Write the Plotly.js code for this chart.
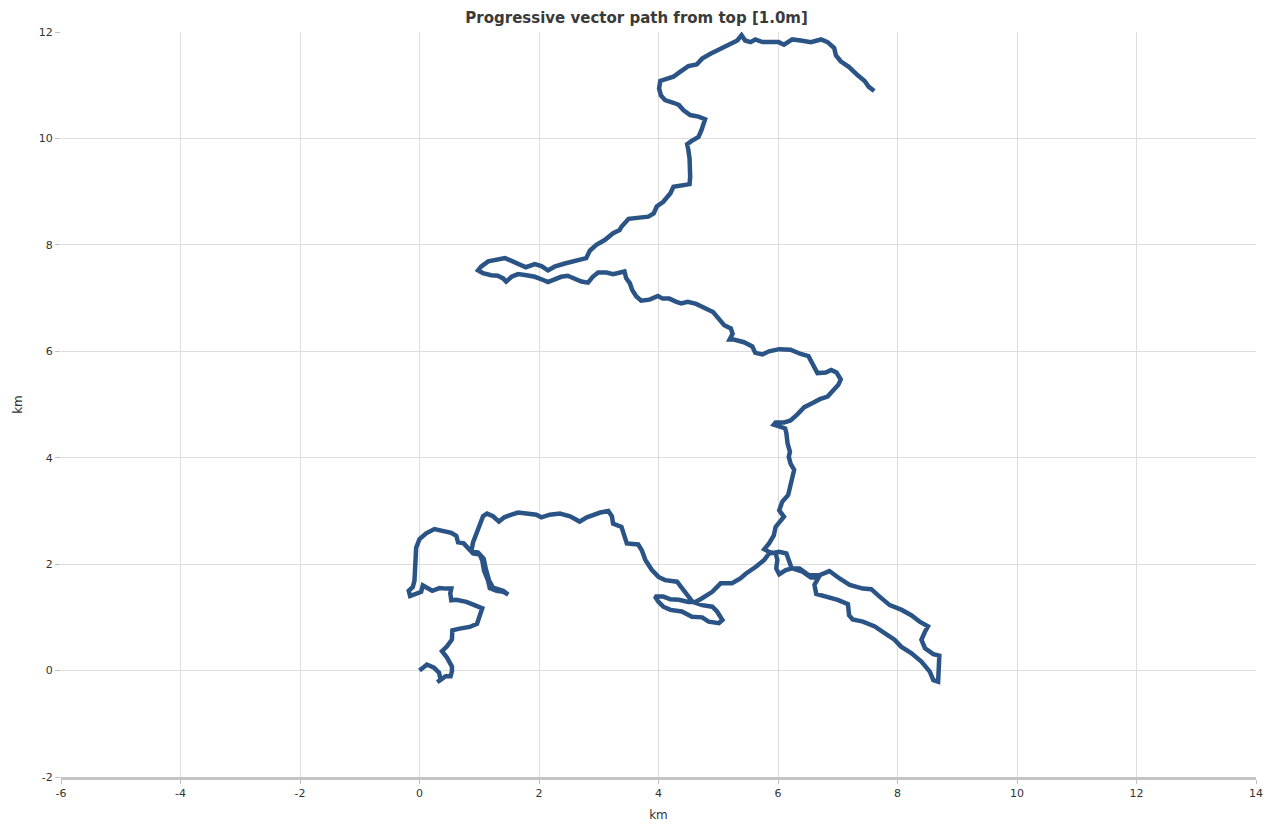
<!DOCTYPE html>
<html>
<head>
<meta charset="utf-8">
<script src="https://cdn.plot.ly/plotly-3.0.1.min.js"></script>
<style>html,body{margin:0;padding:0;background:#fff;}#chart{width:1277px;height:828px;}</style>
</head>
<body>
<div id="chart"></div>
<script>
// Progressive vector path, east (km) and north (km)
const eastKm = [
  0,0.125,0.242,0.326,0.354,0.298,0.438,0.52,0.543,0.543,0.46,0.376,0.46,0.543,0.55,0.672,0.84,0.963,0.997,
  1.05,0.92,0.785,0.616,0.532,0.515,0.532,0.448,0.336,0.213,0.056,0.028,-0.056,-0.157,-0.18,-0.112,-0.084,-0.067,-0.067,-0.056,
  0,0.112,0.25,0.39,0.532,0.616,0.645,0.74,0.81,0.896,1.008,1.05,1.08,1.148,1.176,1.29,1.4,1.485,1.4,1.23,
  1.165,1.11,1.075,0.98,0.87,0.896,0.952,0.997,1.064,1.13,1.23,1.33,1.42,1.54,1.65,1.79,1.955,2.04,2.18,2.35,
  2.52,2.68,2.8,3.025,3.16,3.22,3.24,3.38,3.44,3.47,3.66,3.72,3.78,3.89,4.0,4.11,4.31,4.42,4.5,4.57,
  4.73,4.9,4.98,5.07,5.01,4.84,4.73,4.56,4.39,4.2,4.08,4.0,3.94,4.08,4.2,4.34,4.5,4.62,4.73,4.9,
  5.04,5.23,5.37,5.46,5.63,5.77,5.85,6.02,6.14,6.2,6.23,6.36,6.52,6.69,6.86,7.03,7.2,7.42,7.56,7.7,
  7.87,8.07,8.23,8.37,8.51,8.46,8.4,8.46,8.6,8.7,8.69,8.68,8.6,8.54,8.4,8.23,8.06,7.95,7.79,7.62,
  7.42,7.25,7.19,7.17,7.0,6.8,6.64,6.61,6.68,6.55,6.41,6.24,6.13,6.02,5.97,5.99,5.96,5.85,5.77,5.85,
  5.93,5.96,6.05,6.1,6.02,6.07,6.17,6.2,6.25,6.27,6.21,6.18,6.2,6.16,6.14,6.12,5.93,5.96,6.1,6.21,
  6.32,6.44,6.58,6.7,6.83,6.94,7.01,7.05,6.98,6.89,6.8,6.66,6.6,6.55,6.51,6.38,6.21,6.02,5.85,5.74,
  5.62,5.57,5.43,5.26,5.19,5.24,5.21,5.1,4.99,4.91,4.85,4.74,4.63,4.49,4.38,4.3,4.18,4.07,3.99,3.85,
  3.71,3.63,3.56,3.52,3.46,3.43,3.35,3.24,3.13,2.99,2.9,2.82,2.71,2.6,2.48,2.37,2.26,2.15,2.07,1.93,
  1.79,1.65,1.54,1.45,1.4,1.31,1.2,1.06,0.98,1.03,1.15,1.29,1.43,1.54,1.65,1.78,1.93,2.04,2.15,2.26,
  2.43,2.6,2.79,2.85,2.96,3.1,3.24,3.35,3.38,3.5,3.66,3.83,3.92,3.97,4.08,4.2,4.25,4.39,4.52,4.53,
  4.53,4.52,4.5,4.48,4.55,4.67,4.72,4.76,4.78,4.67,4.53,4.42,4.34,4.25,4.11,4.04,4.01,4.03,4.14,4.25,
  4.36,4.5,4.64,4.73,4.87,5.04,5.18,5.32,5.39,5.45,5.54,5.62,5.74,5.88,6.01,6.1,6.24,6.38,6.55,6.72,
  6.83,6.94,6.97,7.05,7.19,7.33,7.45,7.52,7.61
];
const northKm = [
  0,0.113,0.056,-0.038,-0.17,-0.22,-0.107,-0.107,-0.013,0.075,0.244,0.363,0.457,0.583,0.758,0.789,0.82,0.88,1.01,
  1.17,1.23,1.29,1.33,1.32,1.45,1.54,1.54,1.55,1.5,1.6,1.48,1.44,1.4,1.5,1.57,1.69,1.94,2.12,2.31,
  2.47,2.58,2.66,2.62,2.59,2.53,2.41,2.39,2.29,2.2,2.18,2.07,1.88,1.69,1.55,1.5,1.48,1.43,1.5,1.56,
  1.69,1.91,2.1,2.22,2.25,2.41,2.57,2.72,2.9,2.95,2.9,2.8,2.88,2.93,2.97,2.95,2.93,2.88,2.93,2.95,
  2.9,2.8,2.88,2.97,3.0,2.9,2.76,2.7,2.51,2.39,2.37,2.26,2.08,1.89,1.76,1.7,1.67,1.51,1.39,1.29,
  1.23,1.2,1.11,0.95,0.89,0.92,1.0,1.01,1.11,1.14,1.2,1.29,1.39,1.39,1.34,1.33,1.29,1.29,1.36,1.48,
  1.64,1.64,1.73,1.82,1.95,2.08,2.2,2.23,2.2,2.04,1.92,1.92,1.79,1.79,1.87,1.73,1.61,1.54,1.53,1.39,
  1.23,1.14,1.04,0.92,0.83,0.73,0.58,0.42,0.31,0.28,0.04,-0.21,-0.18,-0.02,0.17,0.33,0.45,0.58,0.7,0.83,
  0.92,0.96,1.04,1.25,1.33,1.39,1.44,1.61,1.75,1.75,1.86,1.92,1.89,1.81,1.92,2.08,2.2,2.23,2.28,2.39,
  2.54,2.7,2.83,2.89,3.01,3.17,3.3,3.45,3.61,3.77,3.89,4.02,4.11,4.27,4.46,4.55,4.62,4.66,4.66,4.7,
  4.81,4.95,5.03,5.1,5.15,5.28,5.37,5.47,5.6,5.65,5.6,5.59,5.72,5.81,5.91,5.95,6.03,6.04,6.0,5.94,
  5.97,6.09,6.17,6.22,6.22,6.33,6.43,6.49,6.62,6.74,6.77,6.84,6.89,6.93,6.9,6.93,6.99,6.99,7.04,6.97,
  6.95,7.03,7.15,7.28,7.37,7.5,7.48,7.45,7.48,7.48,7.4,7.29,7.31,7.37,7.42,7.4,7.34,7.3,7.34,7.4,
  7.43,7.45,7.4,7.31,7.37,7.42,7.43,7.47,7.52,7.59,7.69,7.73,7.75,7.7,7.64,7.58,7.64,7.6,7.52,7.59,
  7.65,7.7,7.75,7.89,8.0,8.09,8.22,8.28,8.34,8.49,8.51,8.53,8.59,8.72,8.81,8.97,9.09,9.12,9.14,9.28,
  9.44,9.62,9.78,9.89,9.95,10.03,10.16,10.28,10.36,10.41,10.44,10.53,10.63,10.67,10.72,10.81,10.94,11.08,11.11,11.16,
  11.25,11.36,11.39,11.5,11.59,11.69,11.75,11.84,11.94,11.84,11.81,11.86,11.81,11.8,11.81,11.76,11.86,11.84,11.81,11.86,
  11.81,11.7,11.56,11.45,11.34,11.19,11.08,10.97,10.89
];
const chartTitle = 'Progressive vector path from top [1.0m]';
const xTitle = 'km';
const yTitle = 'km';
const xTickVals = [-6, -4, -2, 0, 2, 4, 6, 8, 10, 12, 14];
const xTickText = ['-6', '-4', '-2', '0', '2', '4', '6', '8', '10', '12', '14'];
const yTickVals = [-2, 0, 2, 4, 6, 8, 10, 12];
const yTickText = ['-2', '0', '2', '4', '6', '8', '10', '12'];
const xRange = [-6, 14];
const yRange = [-2, 12];

const trace = {
  x: eastKm, y: northKm, type: 'scatter', mode: 'lines',
  line: {color: '#2b5486', width: 4.5, shape: 'linear'},
  hoverinfo: 'x+y', showlegend: false
};

const layout = {
  width: 1277, height: 828,
  margin: {l: 61, r: 21, t: 32, b: 51},
  paper_bgcolor: '#ffffff', plot_bgcolor: '#ffffff',
  font: {family: 'DejaVu Sans, Verdana, sans-serif', size: 11, color: '#333'},
  title: {text: '<b>' + chartTitle + '</b>', x: 0.4985, xanchor: 'center', y: 0.979, yanchor: 'middle',
          font: {family: 'DejaVu Sans, Verdana, sans-serif', size: 15, color: '#3a3a3a'}},
  xaxis: {
    range: xRange, tickmode: 'array', tickvals: xTickVals, ticktext: xTickText, zeroline: false,
    showgrid: true, gridcolor: '#dcdcdc', gridwidth: 1,
    showline: true, linecolor: '#c4c4c4', linewidth: 3,
    ticks: 'outside', ticklen: 4, tickcolor: '#c0c0c0',
    tickfont: {size: 11, color: '#333'},
    title: {text: xTitle, font: {size: 12, color: '#333'}, standoff: 12},
    automargin: false
  },
  yaxis: {
    range: yRange, tickmode: 'array', tickvals: yTickVals, ticktext: yTickText, zeroline: false,
    showgrid: true, gridcolor: '#dcdcdc', gridwidth: 1,
    showline: false,
    ticks: 'outside', ticklen: 5, tickcolor: '#c0c0c0',
    tickfont: {size: 11, color: '#333'},
    title: {text: yTitle, font: {size: 12, color: '#333'}, standoff: 13},
    automargin: false
  }
};

Plotly.newPlot('chart', [trace], layout, {displayModeBar: false, staticPlot: true});
</script>
</body>
</html>
